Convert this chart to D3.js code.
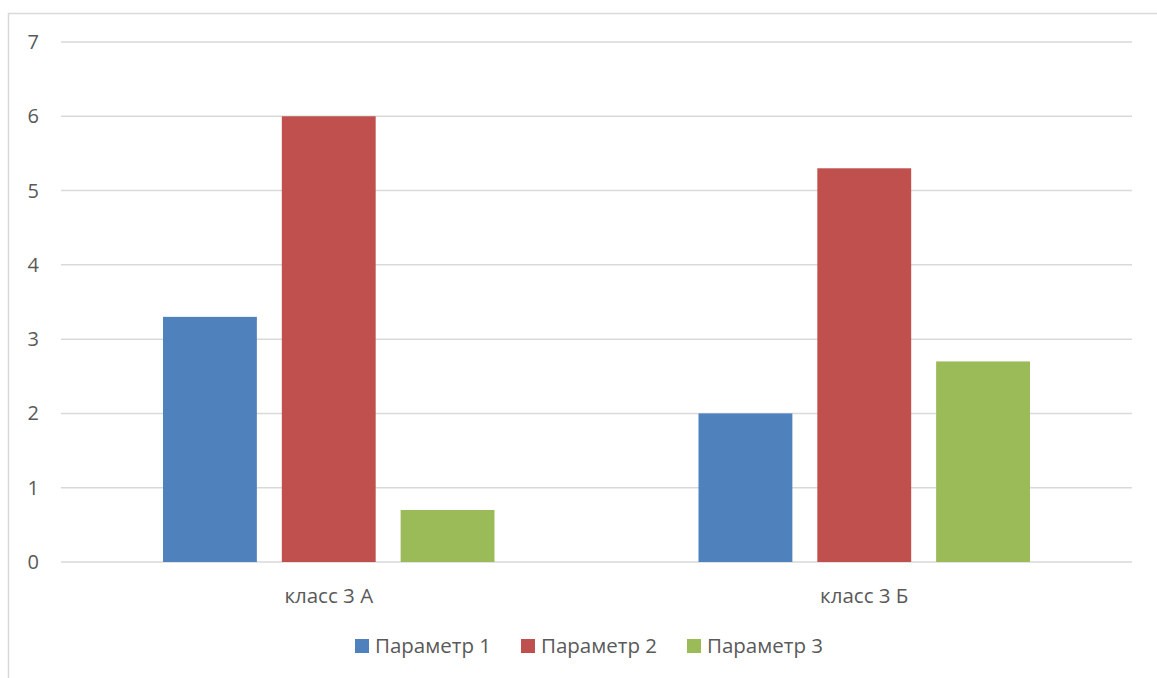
<!DOCTYPE html>
<html>
<head>
<meta charset="utf-8">
<script src="https://cdn.jsdelivr.net/npm/d3@7"></script>
<style>
  body { margin: 0; background: #fff; }
  text { font-family: "Open Sans", sans-serif; fill: #595959; }
</style>
</head>
<body>
<svg id="chart" width="1157" height="678"></svg>
<script>
const categories = ['класс 3 А', 'класс 3 Б'];
const seriesNames = ['Параметр 1', 'Параметр 2', 'Параметр 3'];
const param1 = [3.3, 2.0];
const param2 = [6.0, 5.3];
const param3 = [0.7, 2.7];
const yTicks = [0, 1, 2, 3, 4, 5, 6, 7];
const colors = ['#4f81bd', '#c0504d', '#9bbb59'];

const series = [param1, param2, param3];
const svg = d3.select('#chart');

// chart frame
svg.append('rect')
  .attr('x', 8.5).attr('y', 13.5)
  .attr('width', 1200).attr('height', 700)
  .attr('fill', 'none')
  .attr('stroke', '#d9d9d9')
  .attr('stroke-width', 1.5);

const plot = { left: 61, right: 1132, top: 42, bottom: 562 };

const x = d3.scaleBand()
  .domain(categories)
  .range([plot.left, plot.right]);

const x1 = d3.scaleBand()
  .domain(seriesNames)
  .range([102, x.bandwidth() - 102])
  .paddingInner(0.21);

const y = d3.scaleLinear()
  .domain([0, 7])
  .range([plot.bottom, plot.top]);

// grid
svg.append('g')
  .selectAll('line')
  .data(yTicks)
  .enter().append('line')
    .attr('x1', plot.left).attr('x2', plot.right)
    .attr('y1', d => y(d)).attr('y2', d => y(d))
    .attr('stroke', '#d9d9d9')
    .attr('stroke-width', 1.5);

// y labels
svg.append('g')
  .selectAll('text')
  .data(yTicks)
  .enter().append('text')
    .attr('x', 39)
    .attr('y', d => y(d))
    .attr('dy', '0.35em')
    .attr('text-anchor', 'end')
    .style('font-size', '20px')
    .text(d => d);

// bars
const groups = svg.append('g')
  .selectAll('g')
  .data(categories)
  .enter().append('g')
    .attr('transform', d => `translate(${x(d)},0)`);

groups.selectAll('rect')
  .data((c, i) => series.map((s, k) => ({ name: seriesNames[k], value: s[i], k })))
  .enter().append('rect')
    .attr('x', d => x1(d.name))
    .attr('y', d => y(d.value))
    .attr('width', x1.bandwidth())
    .attr('height', d => y(0) - y(d.value))
    .attr('fill', d => colors[d.k]);

// x labels
svg.append('g')
  .selectAll('text')
  .data(categories)
  .enter().append('text')
    .attr('x', d => x(d) + x.bandwidth() / 2)
    .attr('y', 596)
    .attr('dy', '0.35em')
    .attr('text-anchor', 'middle')
    .style('font-size', '20.5px')
    .text(d => d);

// legend
const legendX = [355, 521, 687];
const legend = svg.append('g')
  .selectAll('g')
  .data(seriesNames)
  .enter().append('g')
    .attr('transform', (d, i) => `translate(${legendX[i]},639)`);

legend.append('rect')
  .attr('width', 14).attr('height', 14)
  .attr('fill', (d, i) => colors[i]);

legend.append('text')
  .attr('x', 20)
  .attr('y', 7)
  .attr('dy', '0.35em')
  .style('font-size', '20.5px')
  .text(d => d);
</script>
</body>
</html>
